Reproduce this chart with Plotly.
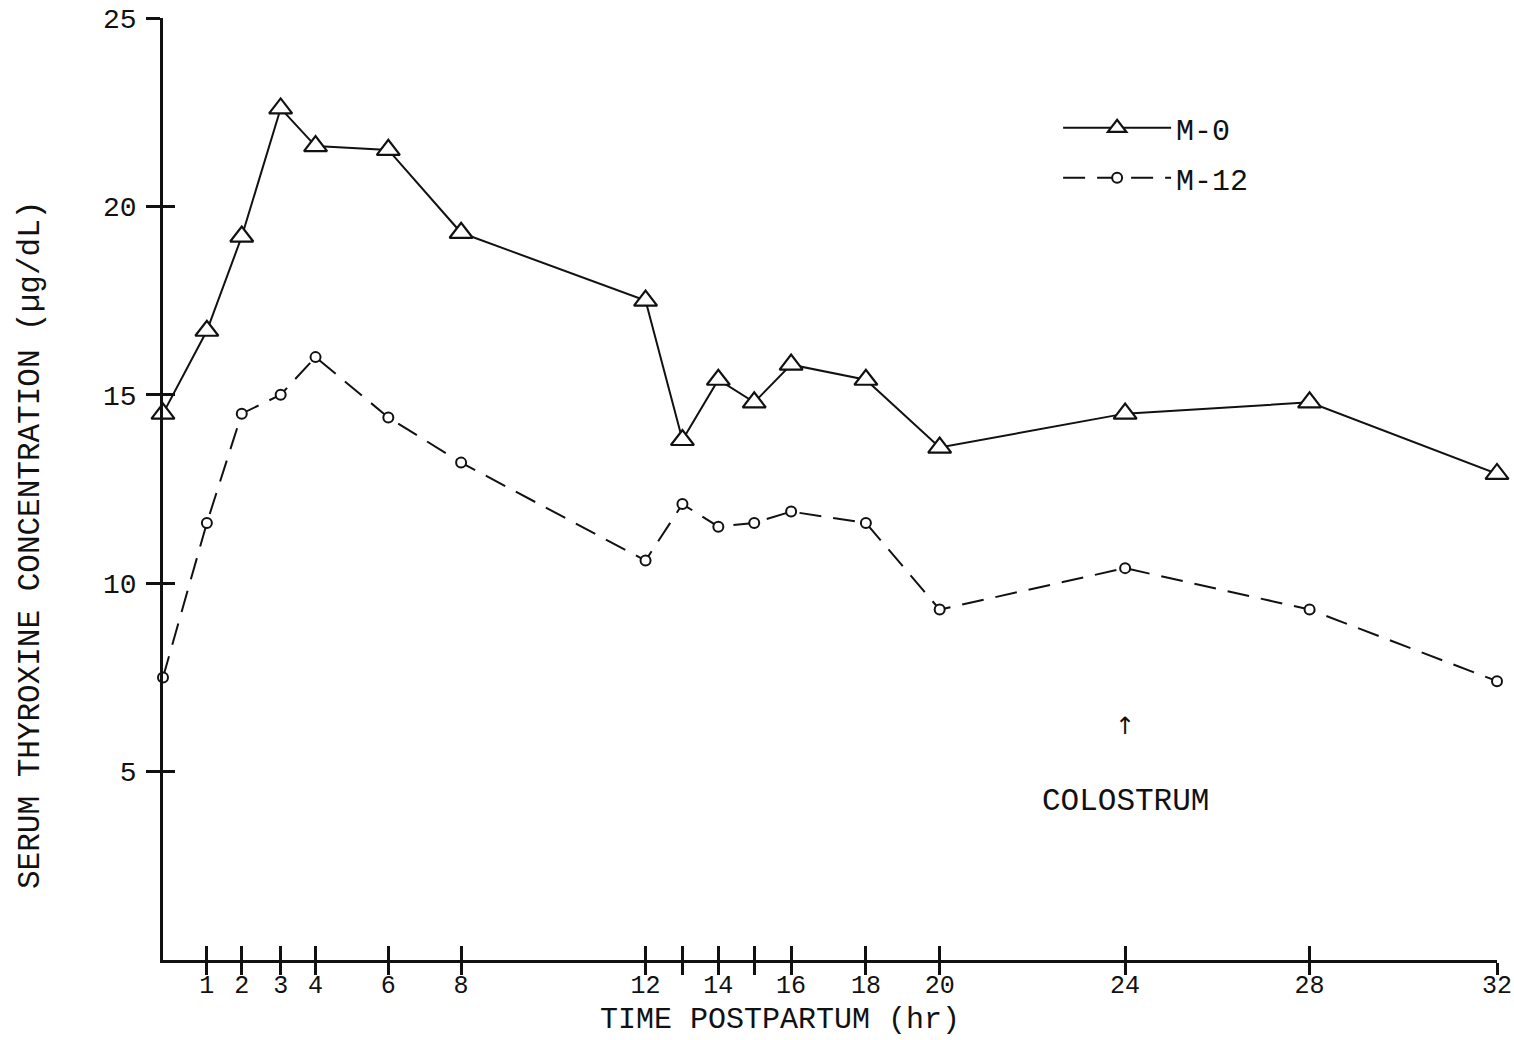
import numpy as np
import plotly.graph_objects as go

# ---- data ----
HOURS = [0, 1, 2, 3, 4, 6, 8, 12, 13, 14, 15, 16, 18, 20, 24, 28, 32]
M0 = [14.5, 16.7, 19.2, 22.6, 21.6, 21.5, 19.3, 17.5, 13.8, 15.4, 14.8, 15.8, 15.4, 13.6, 14.5, 14.8, 12.9]
M12 = [7.5, 11.6, 14.5, 15.0, 16.0, 14.4, 13.2, 10.6, 12.1, 11.5, 11.6, 11.9, 11.6, 9.3, 10.4, 9.3, 7.4]

X_TICK_HOURS = [1, 2, 3, 4, 6, 8, 12, 13, 14, 15, 16, 18, 20, 24, 28, 32]
X_TICK_TEXT = ["1", "2", "3", "4", "6", "8", "12", "", "14", "", "16", "18", "20", "24", "28", "32"]
Y_TICKS = [5, 10, 15, 20, 25]

# ---- the hand-drawn time axis is not uniform: piecewise scale (layout) ----
SCALE_HOURS = [0, 1, 2, 3, 4, 6, 8, 12, 13, 14, 15, 16, 18, 20, 24, 28, 32]
SCALE_POS = [0, 44, 79, 118, 153, 226, 299, 484, 521, 557, 593, 630, 705, 779, 965, 1150, 1338]


def tscale(h):
    return np.interp(h, SCALE_HOURS, SCALE_POS)


FONT = "Liberation Mono, Courier New, monospace"
INK = "#111111"

fig = go.Figure()
fig.add_trace(go.Scatter(
    x=tscale(HOURS), y=M0, mode="lines+markers", name="M-0",
    legendgroup="a",
    line=dict(color=INK, width=2),
    marker=dict(symbol="triangle-up", size=20, color="white",
                line=dict(color=INK, width=2.2)),
    cliponaxis=False,
))
fig.add_trace(go.Scatter(
    x=tscale(HOURS), y=M12, mode="lines+markers", name="M-12",
    legendgroup="b", xaxis="x2", yaxis="y2",
    line=dict(color=INK, width=2, dash="22px,12px"),
    marker=dict(symbol="circle", size=10, color="white",
                line=dict(color=INK, width=2)),
    cliponaxis=False,
))

xr = [0, SCALE_POS[-1]]
common_x = dict(range=xr, tickvals=tscale(X_TICK_HOURS), showgrid=False, zeroline=False,
                tickcolor=INK, tickwidth=2.5, automargin=False)
common_y = dict(range=[0, 25], tickvals=Y_TICKS, showgrid=False, zeroline=False,
                tickcolor=INK, tickwidth=2.5, automargin=False)

fig.update_layout(
    width=1514, height=1040,
    margin=dict(l=163, r=17, t=18, b=80),
    paper_bgcolor="white", plot_bgcolor="white",
    font=dict(family=FONT, color=INK),
    xaxis=dict(**common_x, ticks="outside", ticklen=12, showticklabels=False,
               showline=True, linecolor=INK, linewidth=2.5),
    xaxis2=dict(**common_x, overlaying="x", anchor="y2", side="bottom",
                ticks="inside", ticklen=14, showline=False,
                ticktext=X_TICK_TEXT, ticklabelstandoff=7, ticklabeloverflow="allow",
                tickfont=dict(family=FONT, size=25, color=INK)),
    yaxis=dict(**common_y, ticks="outside", ticklen=14, ticklabelstandoff=4,
               showline=True, linecolor=INK, linewidth=2.5,
               tickfont=dict(family=FONT, size=28, color=INK)),
    yaxis2=dict(**common_y, overlaying="y", anchor="x2", side="left",
                ticks="inside", ticklen=12, showticklabels=False, showline=False),
    showlegend=True,
    legend=dict(x=0.671, y=0.911, xanchor="left", yanchor="top",
                font=dict(family=FONT, size=30, color=INK),
                itemwidth=108, traceorder="grouped", tracegroupgap=8,
                bgcolor="rgba(0,0,0,0)"),
    annotations=[
        dict(text="TIME POSTPARTUM (hr)", xref="paper", yref="paper",
             x=0.4626, y=-0.0635, xanchor="center", yanchor="middle",
             showarrow=False, font=dict(family=FONT, size=30, color=INK)),
        dict(text="SERUM THYROXINE CONCENTRATION (\u00b5g/dL)", xref="paper", yref="paper",
             x=-0.0994, y=0.441, xanchor="center", yanchor="middle", textangle=-90,
             showarrow=False, font=dict(family=FONT, size=31, color=INK)),
        dict(text="\u2191", x=tscale(24), y=6.2, xref="x", yref="y",
             showarrow=False, font=dict(family="DejaVu Sans", size=24, color=INK)),
        dict(text="COLOSTRUM", x=tscale(24), y=4.2, xref="x", yref="y",
             showarrow=False, font=dict(family=FONT, size=31, color=INK)),
    ],
)

fig.write_html("out.html")
